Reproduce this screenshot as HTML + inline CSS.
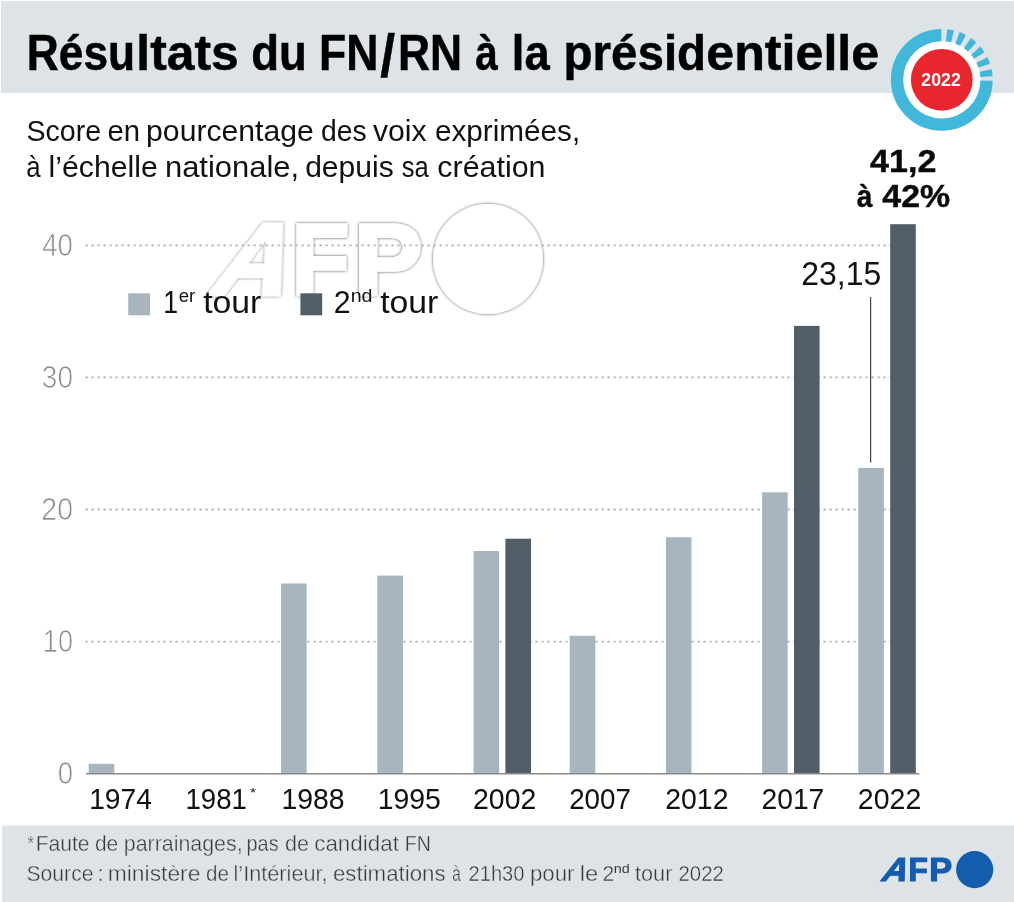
<!DOCTYPE html>
<html lang="fr"><head><meta charset="utf-8"><title>Résultats du FN/RN à la présidentielle</title>
<style>
html,body{margin:0;padding:0;background:#fff;}
body{width:1014px;height:902px;overflow:hidden;font-family:"Liberation Sans",sans-serif;}
svg{display:block;}
text{font-family:"Liberation Sans",sans-serif;}
.b{font-weight:bold;}
.bi{font-weight:bold;font-style:italic;}
</style></head><body>
<svg width="1014" height="902" viewBox="0 0 1014 902">
<rect x="0" y="0" width="1014" height="902" fill="#fff"/>
<rect x="1" y="1" width="1013" height="92" fill="#dde3e7"/>
<rect x="2" y="825.6" width="1012" height="76.4" fill="#dde3e7"/>
<text x="26.83" y="69.6" font-size="49.3" textLength="108.3" lengthAdjust="spacingAndGlyphs" fill="#000" class="b" stroke="#000" stroke-width="0.5">Résu</text>
<text x="136.39" y="69.6" font-size="49.3" textLength="102.22" lengthAdjust="spacingAndGlyphs" fill="#000" class="b" stroke="#000" stroke-width="0.5">ltats</text>
<text x="251.28" y="69.6" font-size="49.3" textLength="55.64" lengthAdjust="spacingAndGlyphs" fill="#000" class="b" stroke="#000" stroke-width="0.5">du</text>
<text x="319.01" y="69.6" font-size="49.3" textLength="59.42" lengthAdjust="spacingAndGlyphs" fill="#000" class="b" stroke="#000" stroke-width="0.5">FN</text>
<text x="397.93" y="69.6" font-size="49.3" textLength="64.1" lengthAdjust="spacingAndGlyphs" fill="#000" class="b" stroke="#000" stroke-width="0.5">RN</text>
<text x="475.37" y="69.6" font-size="49.3" textLength="22.58" lengthAdjust="spacingAndGlyphs" fill="#000" class="b" stroke="#000" stroke-width="0.5">à</text>
<text x="511.86" y="69.6" font-size="49.3" textLength="37.85" lengthAdjust="spacingAndGlyphs" fill="#000" class="b" stroke="#000" stroke-width="0.5">la</text>
<text x="563.53" y="69.6" font-size="49.3" textLength="142.61" lengthAdjust="spacingAndGlyphs" fill="#000" class="b" stroke="#000" stroke-width="0.5">présid</text>
<text x="706.23" y="69.6" font-size="49.3" textLength="173.02" lengthAdjust="spacingAndGlyphs" fill="#000" class="b" stroke="#000" stroke-width="0.5">entielle</text>
<text x="380.2" y="75.5" font-size="58.3" textLength="14.82" lengthAdjust="spacingAndGlyphs" fill="#000" class="b" stroke="#000" stroke-width="0.5">/</text>
<text x="26.51" y="141.2" font-size="30" textLength="74.65" lengthAdjust="spacingAndGlyphs" fill="#111" class="" >Score</text>
<text x="107.59" y="141.2" font-size="30" textLength="32.56" lengthAdjust="spacingAndGlyphs" fill="#111" class="" >en</text>
<text x="146.12" y="141.2" font-size="30" textLength="167.61" lengthAdjust="spacingAndGlyphs" fill="#111" class="" >pourcentage</text>
<text x="321.01" y="141.2" font-size="30" textLength="45.67" lengthAdjust="spacingAndGlyphs" fill="#111" class="" >des</text>
<text x="372.9" y="141.2" font-size="30" textLength="53.7" lengthAdjust="spacingAndGlyphs" fill="#111" class="" >voix</text>
<text x="434.97" y="141.2" font-size="30" textLength="145.25" lengthAdjust="spacingAndGlyphs" fill="#111" class="" >exprimées,</text>
<text x="26.19" y="176.7" font-size="30" textLength="14.34" lengthAdjust="spacingAndGlyphs" fill="#111" class="" >à</text>
<text x="48.61" y="176.7" font-size="30" textLength="109.21" lengthAdjust="spacingAndGlyphs" fill="#111" class="" >l’échelle</text>
<text x="164.97" y="176.7" font-size="30" textLength="134.14" lengthAdjust="spacingAndGlyphs" fill="#111" class="" >nationale,</text>
<text x="305.16" y="176.7" font-size="30" textLength="88.58" lengthAdjust="spacingAndGlyphs" fill="#111" class="" >depuis</text>
<text x="401.8" y="176.7" font-size="30" textLength="27.04" lengthAdjust="spacingAndGlyphs" fill="#111" class="" >sa</text>
<text x="437.35" y="176.7" font-size="30" textLength="108.16" lengthAdjust="spacingAndGlyphs" fill="#111" class="" >création</text>
<circle cx="941.8" cy="79.8" r="39.1" fill="#fff"/>
<path d="M986.54 80.58A44.75 44.75 0 1 1 941.41 35.05M946.56 35.30A44.75 44.75 0 0 1 952.55 36.36M957.47 37.88A44.75 44.75 0 0 1 963.02 40.40M967.40 43.10A44.75 44.75 0 0 1 972.15 46.91M975.73 50.62A44.75 44.75 0 0 1 979.37 55.49M981.92 59.97A44.75 44.75 0 0 1 984.24 65.60M985.59 70.57A44.75 44.75 0 0 1 986.44 76.60" fill="none" stroke="#41b8d9" stroke-width="12.30"/>
<circle cx="941.8" cy="79.8" r="30.9" fill="#e9262d"/>
<text x="921.35" y="86.35" font-size="17.7" textLength="39.39" lengthAdjust="spacingAndGlyphs" fill="#fff" class="b" >2022</text>
<defs><filter id="wm" x="-10%" y="-10%" width="120%" height="120%"><feDropShadow dx="0" dy="0" stdDeviation="1.6" flood-color="#000" flood-opacity="0.7"/></filter></defs>
<text x="206.12" y="293.55" font-size="101.02" textLength="75.11" lengthAdjust="spacingAndGlyphs" class="b" fill="#fff" stroke="#fff" filter="url(#wm)" stroke-width="3.5" stroke-linejoin="miter" transform="translate(283.00 295.3) skewX(-22) translate(-283.00 -295.3)">A</text>
<text x="291.87" y="293.55" font-size="101.02" textLength="57.46" lengthAdjust="spacingAndGlyphs" class="b" fill="#fff" stroke="#fff" filter="url(#wm)" stroke-width="3.5" stroke-linejoin="miter" >F</text>
<text x="353.95" y="293.55" font-size="101.02" textLength="68.3" lengthAdjust="spacingAndGlyphs" class="b" fill="#fff" stroke="#fff" filter="url(#wm)" stroke-width="3.5" stroke-linejoin="miter" >P</text>
<circle cx="488" cy="259" r="55" fill="#fff" filter="url(#wm)"/>
<line x1="85.5" y1="641.6" x2="918" y2="641.6" stroke="#b0b0b0" stroke-width="1.8" stroke-dasharray="2.2 3.8"/>
<line x1="85.5" y1="509.5" x2="918" y2="509.5" stroke="#b0b0b0" stroke-width="1.8" stroke-dasharray="2.2 3.8"/>
<line x1="85.5" y1="377.4" x2="918" y2="377.4" stroke="#b0b0b0" stroke-width="1.8" stroke-dasharray="2.2 3.8"/>
<line x1="85.5" y1="245.3" x2="918" y2="245.3" stroke="#b0b0b0" stroke-width="1.8" stroke-dasharray="2.2 3.8"/>
<text x="42.27" y="256.0" font-size="30.8" textLength="30.72" lengthAdjust="spacingAndGlyphs" fill="#8c8c8c" class="" stroke="#fff" stroke-width="0.7">40</text>
<text x="41.82" y="388.1" font-size="30.8" textLength="31.17" lengthAdjust="spacingAndGlyphs" fill="#8c8c8c" class="" stroke="#fff" stroke-width="0.7">30</text>
<text x="41.37" y="520.2" font-size="30.8" textLength="31.64" lengthAdjust="spacingAndGlyphs" fill="#8c8c8c" class="" stroke="#fff" stroke-width="0.7">20</text>
<text x="42.8" y="652.3" font-size="30.8" textLength="30.17" lengthAdjust="spacingAndGlyphs" fill="#8c8c8c" class="" stroke="#fff" stroke-width="0.7">10</text>
<text x="57.64" y="784.4" font-size="30.8" textLength="15.35" lengthAdjust="spacingAndGlyphs" fill="#8c8c8c" class="" stroke="#fff" stroke-width="0.7">0</text>
<rect x="88.7" y="763.8" width="25.6" height="9.9" fill="#a7b5bf"/>
<rect x="281.1" y="583.5" width="25.6" height="190.2" fill="#a7b5bf"/>
<rect x="377.3" y="575.6" width="25.6" height="198.2" fill="#a7b5bf"/>
<rect x="473.5" y="551.0" width="25.6" height="222.7" fill="#a7b5bf"/>
<rect x="505.4" y="538.7" width="25.6" height="235.0" fill="#525e67"/>
<rect x="569.7" y="635.8" width="25.6" height="137.9" fill="#a7b5bf"/>
<rect x="665.9" y="537.2" width="25.6" height="236.5" fill="#a7b5bf"/>
<rect x="762.1" y="492.3" width="25.6" height="281.4" fill="#a7b5bf"/>
<rect x="794.0" y="325.9" width="25.6" height="447.8" fill="#525e67"/>
<rect x="858.3" y="467.9" width="25.6" height="305.8" fill="#a7b5bf"/>
<rect x="890.2" y="224.2" width="25.6" height="549.5" fill="#525e67"/>
<line x1="86" y1="773.7" x2="919.5" y2="773.7" stroke="#8a8a8a" stroke-width="1.4"/>
<text x="89.14" y="809.3" font-size="29.5" textLength="62.77" lengthAdjust="spacingAndGlyphs" fill="#111" class="" >1974</text>
<text x="185.47" y="809.3" font-size="29.5" textLength="61.45" lengthAdjust="spacingAndGlyphs" fill="#111" class="" >1981</text>
<text x="281.43" y="809.3" font-size="29.5" textLength="63.12" lengthAdjust="spacingAndGlyphs" fill="#111" class="" >1988</text>
<text x="377.63" y="809.3" font-size="29.5" textLength="63.12" lengthAdjust="spacingAndGlyphs" fill="#111" class="" >1995</text>
<text x="473.07" y="809.3" font-size="29.5" textLength="63.18" lengthAdjust="spacingAndGlyphs" fill="#111" class="" >2002</text>
<text x="569.2" y="809.3" font-size="29.5" textLength="61.73" lengthAdjust="spacingAndGlyphs" fill="#111" class="" >2007</text>
<text x="665.27" y="809.3" font-size="29.5" textLength="63.18" lengthAdjust="spacingAndGlyphs" fill="#111" class="" >2012</text>
<text x="761.48" y="809.3" font-size="29.5" textLength="62.87" lengthAdjust="spacingAndGlyphs" fill="#111" class="" >2017</text>
<text x="857.86" y="809.3" font-size="29.5" textLength="63.39" lengthAdjust="spacingAndGlyphs" fill="#111" class="" >2022</text>
<text x="249.74" y="797" font-size="13" textLength="6.5" lengthAdjust="spacingAndGlyphs" fill="#222" class="" >*</text>
<rect x="128.2" y="293.3" width="21.8" height="22" fill="#a7b5bf"/>
<rect x="300.4" y="293.3" width="21.8" height="22" fill="#525e67"/>
<text x="163.13" y="313.3" font-size="30.5" textLength="14.85" lengthAdjust="spacingAndGlyphs" fill="#111" class="" >1</text>
<text x="203.2" y="313.3" font-size="30.5" textLength="58.16" lengthAdjust="spacingAndGlyphs" fill="#111" class="" >tour</text>
<text x="178.72" y="302.2" font-size="19" textLength="16.57" lengthAdjust="spacingAndGlyphs" fill="#111" class="" >er</text>
<text x="333.68" y="313.3" font-size="30.5" textLength="16.85" lengthAdjust="spacingAndGlyphs" fill="#111" class="" >2</text>
<text x="380.2" y="313.3" font-size="30.5" textLength="58.16" lengthAdjust="spacingAndGlyphs" fill="#111" class="" >tour</text>
<text x="350.67" y="302.2" font-size="19" textLength="21.83" lengthAdjust="spacingAndGlyphs" fill="#111" class="" >nd</text>
<text x="870.1" y="172" font-size="31" textLength="66.25" lengthAdjust="spacingAndGlyphs" fill="#0a0a0a" class="b" stroke="#0a0a0a" stroke-width="0.4">41,2</text>
<text x="856.86" y="207.3" font-size="31" textLength="15.66" lengthAdjust="spacingAndGlyphs" fill="#0a0a0a" class="b" stroke="#0a0a0a" stroke-width="0.4">à</text>
<text x="882.3" y="207.3" font-size="31" textLength="67.78" lengthAdjust="spacingAndGlyphs" fill="#0a0a0a" class="b" stroke="#0a0a0a" stroke-width="0.4">42%</text>
<text x="801.3" y="284.7" font-size="33" textLength="79.99" lengthAdjust="spacingAndGlyphs" fill="#111" class="" >23,15</text>
<line x1="870.6" y1="297" x2="870.6" y2="462.6" stroke="#444" stroke-width="1.2"/>
<text x="27.43" y="849.8" font-size="20" textLength="6.61" lengthAdjust="spacingAndGlyphs" fill="#3a3a3a" class="" stroke="#dde3e7" stroke-width="0.4">*</text>
<text x="35.65" y="851.4" font-size="22.3" textLength="53.9" lengthAdjust="spacingAndGlyphs" fill="#3a3a3a" class="" stroke="#dde3e7" stroke-width="0.4">Faute</text>
<text x="94.95" y="851.4" font-size="22.3" textLength="23.3" lengthAdjust="spacingAndGlyphs" fill="#3a3a3a" class="" stroke="#dde3e7" stroke-width="0.4">de</text>
<text x="123.76" y="851.4" font-size="22.3" textLength="118.83" lengthAdjust="spacingAndGlyphs" fill="#3a3a3a" class="" stroke="#dde3e7" stroke-width="0.4">parrainages,</text>
<text x="246.45" y="851.4" font-size="22.3" textLength="32.17" lengthAdjust="spacingAndGlyphs" fill="#3a3a3a" class="" stroke="#dde3e7" stroke-width="0.4">pas</text>
<text x="284.93" y="851.4" font-size="22.3" textLength="23.95" lengthAdjust="spacingAndGlyphs" fill="#3a3a3a" class="" stroke="#dde3e7" stroke-width="0.4">de</text>
<text x="314.2" y="851.4" font-size="22.3" textLength="84.72" lengthAdjust="spacingAndGlyphs" fill="#3a3a3a" class="" stroke="#dde3e7" stroke-width="0.4">candidat</text>
<text x="404.67" y="851.4" font-size="22.3" textLength="26.13" lengthAdjust="spacingAndGlyphs" fill="#3a3a3a" class="" stroke="#dde3e7" stroke-width="0.4">FN</text>
<text x="26.54" y="880.8" font-size="22.3" textLength="66.92" lengthAdjust="spacingAndGlyphs" fill="#3a3a3a" class="" stroke="#dde3e7" stroke-width="0.4">Source</text>
<text x="97.5" y="880.8" font-size="22.3" fill="#3a3a3a" class="" stroke="#dde3e7" stroke-width="0.4">:</text>
<text x="107.77" y="880.8" font-size="22.3" textLength="92.65" lengthAdjust="spacingAndGlyphs" fill="#3a3a3a" class="" stroke="#dde3e7" stroke-width="0.4">ministère</text>
<text x="206.05" y="880.8" font-size="22.3" textLength="22.98" lengthAdjust="spacingAndGlyphs" fill="#3a3a3a" class="" stroke="#dde3e7" stroke-width="0.4">de</text>
<text x="233.54" y="880.8" font-size="22.3" textLength="94.08" lengthAdjust="spacingAndGlyphs" fill="#3a3a3a" class="" stroke="#dde3e7" stroke-width="0.4">l’Intérieur,</text>
<text x="332.9" y="880.8" font-size="22.3" textLength="112.79" lengthAdjust="spacingAndGlyphs" fill="#3a3a3a" class="" stroke="#dde3e7" stroke-width="0.4">estimations</text>
<text x="452.32" y="880.8" font-size="22.3" textLength="8.58" lengthAdjust="spacingAndGlyphs" fill="#3a3a3a" class="" stroke="#dde3e7" stroke-width="0.4">à</text>
<text x="468.56" y="880.8" font-size="22.3" textLength="55.94" lengthAdjust="spacingAndGlyphs" fill="#3a3a3a" class="" stroke="#dde3e7" stroke-width="0.4">21h30</text>
<text x="529.91" y="880.8" font-size="22.3" textLength="44.6" lengthAdjust="spacingAndGlyphs" fill="#3a3a3a" class="" stroke="#dde3e7" stroke-width="0.4">pour</text>
<text x="579.81" y="880.8" font-size="22.3" textLength="18.56" lengthAdjust="spacingAndGlyphs" fill="#3a3a3a" class="" stroke="#dde3e7" stroke-width="0.4">le</text>
<text x="602.61" y="880.8" font-size="22.3" textLength="11.75" lengthAdjust="spacingAndGlyphs" fill="#3a3a3a" class="" stroke="#dde3e7" stroke-width="0.4">2</text>
<text x="635.0" y="880.8" font-size="22.3" textLength="37.41" lengthAdjust="spacingAndGlyphs" fill="#3a3a3a" class="" stroke="#dde3e7" stroke-width="0.4">tour</text>
<text x="678.55" y="880.8" font-size="22.3" textLength="45.28" lengthAdjust="spacingAndGlyphs" fill="#3a3a3a" class="" stroke="#dde3e7" stroke-width="0.4">2022</text>
<text x="613.8" y="872.8" font-size="13.5" textLength="16.01" lengthAdjust="spacingAndGlyphs" fill="#3a3a3a" class="" >nd</text>
<text x="879.58" y="881.00" font-size="33.14" textLength="25.23" lengthAdjust="spacingAndGlyphs" class="b" fill="#145cad" stroke="#145cad" stroke-width="1.2" stroke-linejoin="miter" transform="translate(905.42 881.6) skewX(-22) translate(-905.42 -881.6)">A</text>
<text x="908.41" y="881.00" font-size="33.14" textLength="19.29" lengthAdjust="spacingAndGlyphs" class="b" fill="#145cad" stroke="#145cad" stroke-width="1.2" stroke-linejoin="miter" >F</text>
<text x="929.28" y="881.00" font-size="33.14" textLength="22.94" lengthAdjust="spacingAndGlyphs" class="b" fill="#145cad" stroke="#145cad" stroke-width="1.2" stroke-linejoin="miter" >P</text>
<circle cx="974.7" cy="869.6" r="18.6" fill="#145cad"/>
</svg></body></html>
